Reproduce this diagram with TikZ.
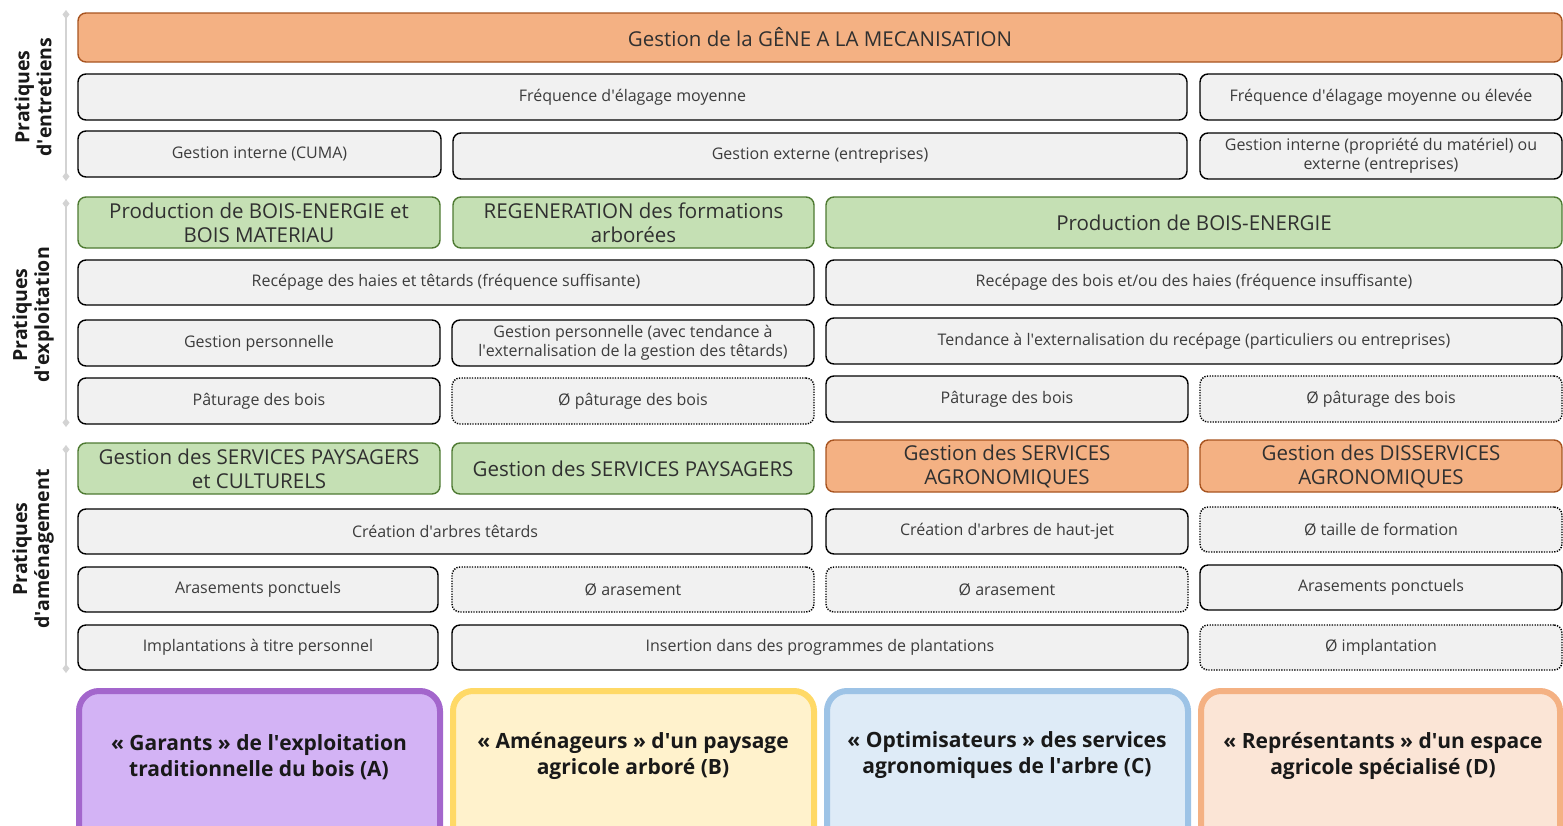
\documentclass[tikz,border=0pt]{standalone}
\usepackage{fontspec}
\setmainfont{Open Sans}
\usetikzlibrary{arrows.meta}
\definecolor{gfill}{HTML}{F1F1F1}
\definecolor{txt}{HTML}{3C3C3C}
\definecolor{ofill}{HTML}{F4B183}
\definecolor{oline}{HTML}{A85420}
\definecolor{grfill}{HTML}{C5E0B4}
\definecolor{grline}{HTML}{4E7A32}
\definecolor{afill}{HTML}{D3B3F5}
\definecolor{aline}{HTML}{A366CC}
\definecolor{bfill}{HTML}{FFF2CC}
\definecolor{bline}{HTML}{FFD966}
\definecolor{cfill}{HTML}{DEEBF7}
\definecolor{cline}{HTML}{9DC3E6}
\definecolor{dfill}{HTML}{FBE5D6}
\definecolor{dline}{HTML}{F4B183}
\definecolor{axis}{HTML}{D3D3D3}
\newcommand\ap{\textquotesingle}
\tikzset{
  base/.style={rounded corners=8pt, inner sep=0pt, outer sep=0pt, align=center},
  gbox/.style={base, draw=black, line width=1.4pt, fill=gfill, text=txt, font=\fontsize{16}{19}\selectfont},
  dbox/.style={gbox, dash pattern=on 1.3pt off 1.3pt},
  obox/.style={base, draw=oline, line width=1.4pt, fill=ofill, text=txt!80!black, font=\fontsize{20.5}{24}\selectfont},
  grbox/.style={base, draw=grline, line width=1.4pt, fill=grfill, text=txt!80!black, font=\fontsize{20.5}{24}\selectfont},
  bigbox/.style={base, rounded corners=20pt, line width=6pt},
  bigtext/.style={align=center, font=\bfseries\fontsize{21}{26}\selectfont, text=black!90},
  side/.style={rotate=90, align=center, font=\bfseries\fontsize{19.5}{22}\selectfont, text=black!90},
  axisline/.style={draw=axis, line width=2.5pt, {Diamond[width=7pt,length=9pt]}-{Diamond[width=7pt,length=9pt]}}
}
\newcommand\bx[7]{\node[#2, minimum width={#5pt-#3pt}, minimum height={#6pt-#4pt}] (#1) at ({(#3+#5)/2},{(#4+#6)/2}) {#7};}
\begin{document}
\begin{tikzpicture}[x=1pt,y=-1pt]
\useasboundingbox (0,0) rectangle (1563,825);
\clip (0,0) rectangle (1563,825);
% axes
\coordinate (a1t) at (66,10); \coordinate (a1b) at (66,181);
\coordinate (a2t) at (66,199); \coordinate (a2b) at (66,427);
\coordinate (a3t) at (66,445); \coordinate (a3b) at (66,673);
\draw[axisline] (a1t) -- (a1b);
\draw[axisline] (a2t) -- (a2b);
\draw[axisline] (a3t) -- (a3b);
\node[side] (l1) at (33,97) {Pratiques\\d\ap entretiens};
\node[side] (l2) at (33,315) {Pratiques\\d\ap exploitation};
\node[side] (l3) at (33,549) {Pratiques\\d\ap aménagement};
% section 1
\bx{m1}{obox}{78}{13}{1562}{62}{Gestion de la GÊNE A LA MECANISATION}
\bx{f1}{gbox}{78}{74}{1187}{120}{Fréquence d\ap élagage moyenne}
\bx{f2}{gbox}{1200}{74}{1562}{120}{Fréquence d\ap élagage moyenne ou élevée}
\bx{g1}{gbox}{78}{131}{441}{177}{Gestion interne (CUMA)}
\bx{g2}{gbox}{453}{133}{1187}{179}{Gestion externe (entreprises)}
\bx{g3}{gbox}{1200}{133}{1562}{179}{Gestion interne (propriété du matériel) ou\\externe (entreprises)}
% section 2
\bx{p1}{grbox}{78}{197}{440}{248}{Production de BOIS-ENERGIE et\\BOIS MATERIAU}
\bx{p2}{grbox}{453}{197}{814}{248}{REGENERATION des formations\\arborées}
\bx{p3}{grbox}{826}{197}{1562}{248}{Production de BOIS-ENERGIE}
\bx{r1}{gbox}{78}{260}{814}{305}{Recépage des haies et têtards (fréquence suffisante)}
\bx{r2}{gbox}{826}{260}{1562}{305}{Recépage des bois et/ou des haies (fréquence insuffisante)}
\bx{h1}{gbox}{78}{320}{440}{366}{Gestion personnelle}
\bx{h2}{gbox}{452}{320}{814}{366}{Gestion personnelle (avec tendance à\\l\ap externalisation de la gestion des têtards)}
\bx{h3}{gbox}{826}{318}{1562}{364}{Tendance à l\ap externalisation du recépage (particuliers ou entreprises)}
\bx{q1}{gbox}{78}{378}{440}{424}{Pâturage des bois}
\bx{q2}{dbox}{452}{378}{814}{424}{Ø pâturage des bois}
\bx{q3}{gbox}{826}{376}{1188}{422}{Pâturage des bois}
\bx{q4}{dbox}{1200}{376}{1562}{422}{Ø pâturage des bois}
% section 3
\bx{s1}{grbox}{78}{443}{440}{494}{Gestion des SERVICES PAYSAGERS\\et CULTURELS}
\bx{s2}{grbox}{452}{443}{814}{494}{Gestion des SERVICES PAYSAGERS}
\bx{s3}{obox}{826}{440}{1188}{492}{Gestion des SERVICES\\AGRONOMIQUES}
\bx{s4}{obox}{1200}{440}{1562}{492}{Gestion des DISSERVICES\\AGRONOMIQUES}
\bx{c1}{gbox}{78}{509}{812}{554}{Création d\ap arbres têtards}
\bx{c2}{gbox}{826}{509}{1188}{554}{Création d\ap arbres de haut-jet}
\bx{c3}{dbox}{1200}{507}{1562}{552}{Ø taille de formation}
\bx{e1}{gbox}{78}{567}{438}{612}{Arasements ponctuels}
\bx{e2}{dbox}{452}{567}{814}{612}{Ø arasement}
\bx{e3}{dbox}{826}{567}{1188}{612}{Ø arasement}
\bx{e4}{gbox}{1200}{565}{1562}{610}{Arasements ponctuels}
\bx{i1}{gbox}{78}{625}{438}{670}{Implantations à titre personnel}
\bx{i2}{gbox}{452}{625}{1188}{670}{Insertion dans des programmes de plantations}
\bx{i3}{dbox}{1200}{625}{1562}{670}{Ø implantation}
% bottom
\bx{A}{bigbox, draw=aline, fill=afill}{79}{691}{440}{860}{}
\bx{B}{bigbox, draw=bline, fill=bfill}{453}{691}{814}{860}{}
\bx{C}{bigbox, draw=cline, fill=cfill}{827}{691}{1188}{860}{}
\bx{D}{bigbox, draw=dline, fill=dfill}{1201}{691}{1560}{860}{}
\node[bigtext] (At) at (259,757) {« Garants » de l\ap exploitation\\traditionnelle du bois (A)};
\node[bigtext] (Bt) at (633,756) {« Aménageurs » d\ap un paysage\\agricole arboré (B)};
\node[bigtext] (Ct) at (1007,755) {« Optimisateurs » des services\\agronomiques de l\ap arbre (C)};
\node[bigtext] (Dt) at (1383,756) {« Représentants » d\ap un espace\\agricole spécialisé (D)};
\end{tikzpicture}
\end{document}
